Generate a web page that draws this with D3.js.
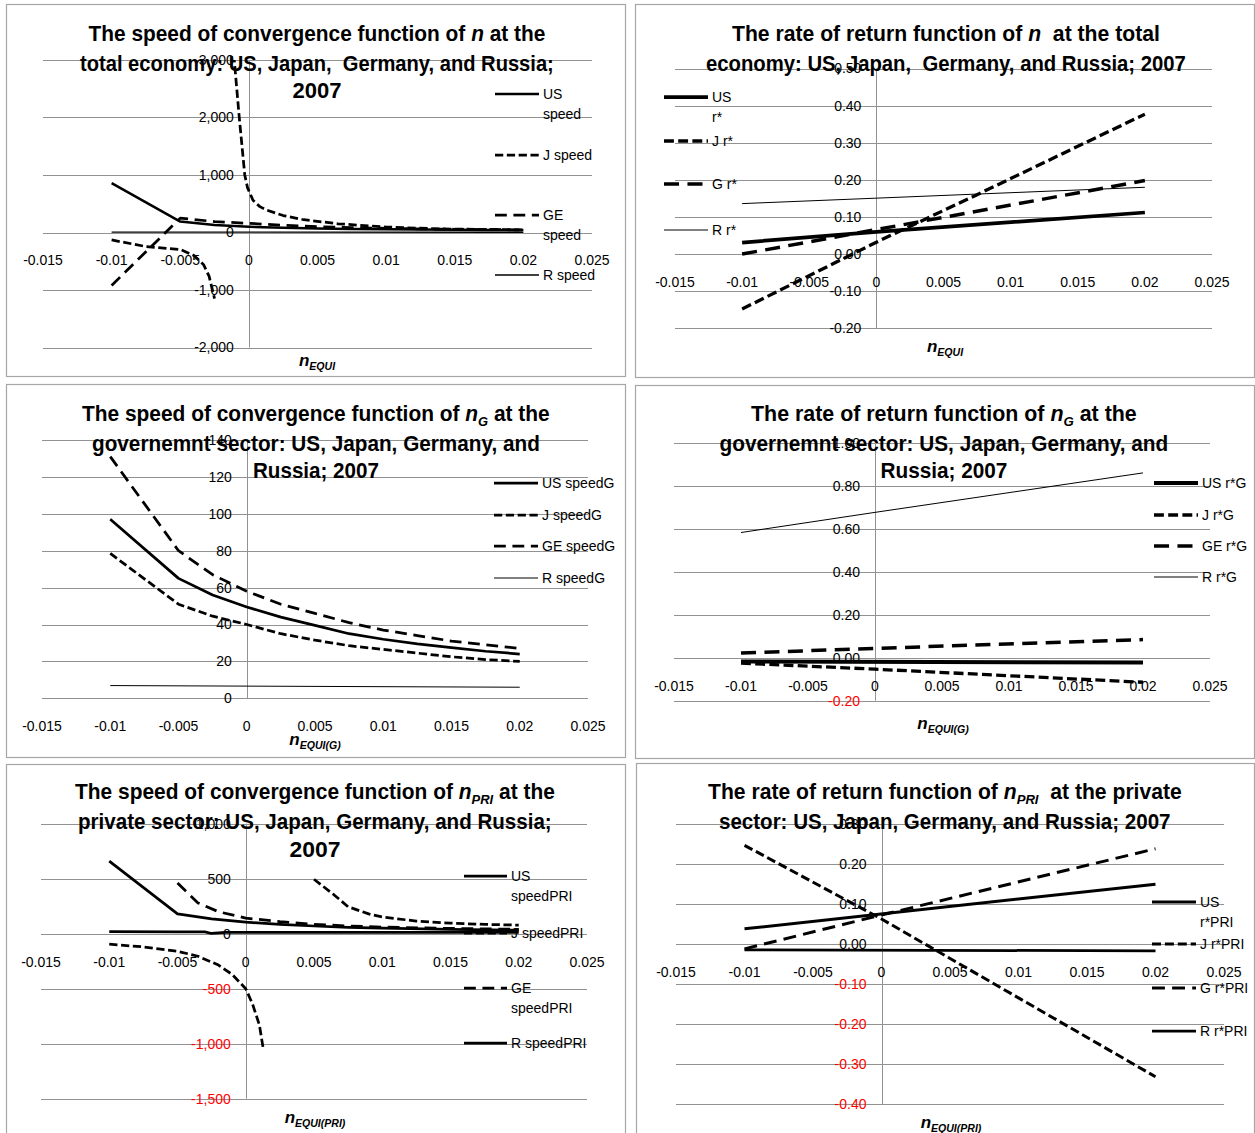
<!DOCTYPE html>
<html>
<head>
<meta charset="utf-8">
<script src="https://cdn.jsdelivr.net/npm/d3@7"></script>
<style>
  body { margin: 0; background: #fff; }
  svg { display: block; }
  text { white-space: pre; }
</style>
</head>
<body>
<div id="chart-area"></div>
<script>
// ---------- data ----------
var xTicks = [-0.015, -0.01, -0.005, 0, 0.005, 0.01, 0.015, 0.02, 0.025];

// panel 1: speed of convergence, total economy
var speedTicks = [-2000, -1000, 0, 1000, 2000, 3000];
var usSpeed = [[-0.01, 860], [-0.005, 190], [-0.0025, 130], [0, 100], [0.0025, 82], [0.005, 70], [0.0075, 62], [0.01, 56], [0.0125, 51], [0.015, 47], [0.0175, 44], [0.02, 42]];
var jSpeed = [[-0.01, -130], [-0.0075, -245], [-0.005, -295], [-0.004, -400], [-0.0033, -560], [-0.0029, -760], [-0.0025, -1150], null,
              [-0.0011, 3100], [-0.0007, 2000], [-0.0003, 1000], [-0.0001, 780], [0.0003, 560], [0.0008, 450], [0.0013, 390], [0.0025, 295], [0.004, 222], [0.0065, 152], [0.01, 95], [0.014, 63], [0.02, 45]];
var geSpeed = [[-0.01, -920], [-0.005, 250], [-0.0025, 190], [0, 160], [0.0025, 125], [0.005, 100], [0.0075, 85], [0.01, 72], [0.015, 56], [0.02, 45]];
var rSpeed = [[-0.01, 8], [0, 6], [0.02, 4]];

// panel 2: rate of return, total economy
var rateTicks = [-0.2, -0.1, 0, 0.1, 0.2, 0.3, 0.4, 0.5];
var usRate = [[-0.01, 0.031], [0, 0.06], [0.02, 0.112]];
var jRate = [[-0.01, -0.148], [0, 0.032], [0.0075, 0.16], [0.02, 0.377]];
var gRate = [[-0.01, 0.0], [0, 0.066], [0.02, 0.198]];
var rRate = [[-0.01, 0.136], [0.02, 0.18]];

// panel 3: speed of convergence, government sector
var speedGTicks = [0, 20, 40, 60, 80, 100, 120, 140];
var usSpeedG = [[-0.01, 97], [-0.005, 65], [-0.0025, 56], [0, 49.5], [0.0025, 44], [0.005, 39.5], [0.0075, 35], [0.01, 32], [0.0125, 29.5], [0.015, 27.5], [0.0175, 25.5], [0.02, 24]];
var jSpeedG = [[-0.01, 78.5], [-0.005, 51], [-0.0025, 44.5], [0, 40], [0.0025, 35], [0.005, 31.5], [0.0075, 28.5], [0.01, 26.5], [0.0125, 24.5], [0.015, 22.5], [0.0175, 21], [0.02, 20]];
var geSpeedG = [[-0.01, 131], [-0.005, 80], [-0.0025, 67], [0, 58], [0.0025, 51], [0.005, 46], [0.0075, 41], [0.01, 37], [0.0125, 34], [0.015, 31], [0.0175, 29], [0.02, 27]];
var rSpeedG = [[-0.01, 6.9], [0.02, 6.0]];

// panel 4: rate of return, government sector
var rateGTicks = [-0.2, 0, 0.2, 0.4, 0.6, 0.8, 1.0];
var usRateG = [[-0.01, -0.017], [0.02, -0.022]];
var jRateG = [[-0.01, -0.025], [0, -0.053], [0.02, -0.114]];
var geRateG = [[-0.01, 0.022], [0, 0.044], [0.02, 0.085]];
var rRateG = [[-0.01, 0.584], [0, 0.678], [0.02, 0.862]];

// panel 5: speed of convergence, private sector
var speedPriTicks = [-1500, -1000, -500, 0, 500, 1000];
var usSpeedPri = [[-0.01, 660], [-0.005, 180], [-0.0025, 135], [0, 105], [0.0025, 85], [0.005, 70], [0.0075, 58], [0.01, 50], [0.015, 40], [0.02, 32]];
var jSpeedPri = [[-0.01, -95], [-0.0075, -120], [-0.005, -160], [-0.0035, -205], [-0.002, -285], [-0.001, -370], [0, -500], [0.0005, -640], [0.001, -830], [0.0013, -1060], null,
                 [0.005, 495], [0.0065, 350], [0.0075, 245], [0.009, 180], [0.01, 152], [0.0125, 115], [0.015, 96], [0.0175, 85], [0.02, 78]];
var geSpeedPri = [[-0.005, 460], [-0.0035, 280], [-0.002, 200], [0, 142], [0.0025, 110], [0.005, 85], [0.0075, 70], [0.01, 60], [0.015, 48], [0.02, 40]];
var rSpeedPri = [[-0.01, 18], [-0.005, 17], [-0.003, 16], [-0.0025, 2], [-0.0015, 13], [0.02, 12]];

// panel 6: rate of return, private sector
var ratePriTicks = [-0.4, -0.3, -0.2, -0.1, 0, 0.1, 0.2, 0.3];
var usRatePri = [[-0.01, 0.0375], [0.02, 0.149]];
var jRatePri = [[-0.01, 0.246], [0, 0.062], [0.01, -0.135], [0.02, -0.332]];
var gRatePri = [[-0.01, -0.0125], [0, 0.072], [0.02, 0.2375]];
var rRatePri = [[-0.01, -0.015], [0.02, -0.0175]];

// ---------- setup ----------
var W = 1255, H = 1133;
var FONT = "'Liberation Sans', Arial, sans-serif";
var loc = d3.formatLocale({ decimal: ".", thousands: ",", grouping: [3], currency: ["", ""], minus: "-" });
var fmtComma = loc.format(","), fmt2 = loc.format(".2f"), fmtInt = loc.format("d");
var xFmt = d => String(+d.toFixed(3));

var canvas = d3.select("#chart-area").append("svg")
  .attr("width", W).attr("height", H);

// line styles, dash lengths follow the stroke width like Excel does
var styles = {
  solid: w => ({ w: w, dash: null }),
  short: w => ({ w: w, dash: [3 * w, 1.3 * w].join(",") }),
  long:  w => ({ w: w, dash: [4.3 * w, 2.4 * w].join(",") })
};

var panels = [
  { box: [6, 4, 625, 376], plot: [43, 592, 60, 347.5], yDomain: [-2000, 3000], yTicks: speedTicks, yFmt: fmtComma, redNeg: false,
    title: ["The speed of convergence function of <i>n</i> at the", "total economy: US, Japan,  Germany, and Russia;", "2007"],
    titleY: [33, 63, 90], titleW: [457, 474, 49], titleCx: 317,
    xTitle: "EQUI", xTitlePos: [317, 363],
    series: [
      { data: usSpeed, st: styles.solid(2.5), label: ["US", "speed"], ly: 94 },
      { data: jSpeed, st: styles.short(2.75), label: ["J speed"], ly: 155 },
      { data: geSpeed, st: styles.long(2.75), label: ["GE", "speed"], ly: 215 },
      { data: rSpeed, st: styles.solid(1.3), label: ["R speed"], ly: 275 }],
    legend: [495, 539, 543] },
  { box: [635, 4, 1254, 377], plot: [675, 1212, 68.5, 328.3], yDomain: [-0.2, 0.5], yTicks: rateTicks, yFmt: fmt2, redNeg: false,
    title: ["The rate of return function of <i>n</i>  at the total", "economy: US, Japan,  Germany, and Russia; 2007"],
    titleY: [33, 63], titleW: [428, 480], titleCx: 946,
    xTitle: "EQUI", xTitlePos: [945, 349],
    series: [
      { data: usRate, st: styles.solid(3.75), label: ["US", "r*"], ly: 97 },
      { data: jRate, st: styles.short(3.3), label: ["J r*"], ly: 141 },
      { data: gRate, st: styles.long(3.5), label: ["G r*"], ly: 184 },
      { data: rRate, st: styles.solid(1), label: ["R r*"], ly: 230 }],
    legend: [664, 708, 712] },
  { box: [6, 384, 625, 757], plot: [42, 588, 440, 698.3], yDomain: [0, 140], yTicks: speedGTicks, yFmt: fmtInt, redNeg: false,
    title: ["The speed of convergence function of <i>n</i><sub>G</sub> at the", "governemnt sector: US, Japan, Germany, and", "Russia; 2007"],
    titleY: [413, 443, 470], titleW: [468, 448, 126], titleCx: 316,
    xTitle: "EQUI(G)", xTitlePos: [315, 742],
    series: [
      { data: usSpeedG, st: styles.solid(2.75), label: ["US speedG"], ly: 483 },
      { data: jSpeedG, st: styles.short(2.75), label: ["J speedG"], ly: 515 },
      { data: geSpeedG, st: styles.long(2.75), label: ["GE speedG"], ly: 546 },
      { data: rSpeedG, st: styles.solid(1), label: ["R speedG"], ly: 578 }],
    legend: [494, 538, 542] },
  { box: [635, 385, 1254, 758], plot: [674, 1210, 443.3, 700.7], yDomain: [-0.2, 1.0], yTicks: rateGTicks, yFmt: fmt2, redNeg: true,
    title: ["The rate of return function of <i>n</i><sub>G</sub> at the", "governemnt sector: US, Japan, Germany, and", "Russia; 2007"],
    titleY: [413, 443, 470], titleW: [386, 449, 127], titleCx: 944,
    xTitle: "EQUI(G)", xTitlePos: [943, 726],
    series: [
      { data: usRateG, st: styles.solid(4), label: ["US r*G"], ly: 483 },
      { data: jRateG, st: styles.short(3.3), label: ["J r*G"], ly: 515 },
      { data: geRateG, st: styles.long(3.5), label: ["GE r*G"], ly: 546 },
      { data: rRateG, st: styles.solid(1), label: ["R r*G"], ly: 577 }],
    legend: [1154, 1198, 1202] },
  { box: [6, 764, 625, 1140], plot: [41, 587, 823.7, 1098.7], yDomain: [-1500, 1000], yTicks: speedPriTicks, yFmt: fmtComma, redNeg: true,
    title: ["The speed of convergence function of <i>n</i><sub>PRI</sub> at the", "private sector: US, Japan, Germany, and Russia;", "2007"],
    titleY: [791, 821, 849], titleW: [480, 474, 51], titleCx: 315,
    xTitle: "EQUI(PRI)", xTitlePos: [315, 1120],
    series: [
      { data: usSpeedPri, st: styles.solid(2.75), label: ["US", "speedPRI"], ly: 876 },
      { data: jSpeedPri, st: styles.short(2.75), label: ["J speedPRI"], ly: 933 },
      { data: geSpeedPri, st: styles.long(2.75), label: ["GE", "speedPRI"], ly: 988 },
      { data: rSpeedPri, st: styles.solid(2.75), label: ["R speedPRI"], ly: 1043 }],
    legend: [464, 507, 511] },
  { box: [636, 763, 1254, 1140], plot: [676, 1224, 823.7, 1104], yDomain: [-0.4, 0.3], yTicks: ratePriTicks, yFmt: fmt2, redNeg: true,
    title: ["The rate of return function of <i>n</i><sub>PRI</sub>  at the private", "sector: US, Japan, Germany, and Russia; 2007"],
    titleY: [791, 821], titleW: [474, 452], titleCx: 945,
    xTitle: "EQUI(PRI)", xTitlePos: [951, 1125],
    series: [
      { data: usRatePri, st: styles.solid(3), label: ["US", "r*PRI"], ly: 902 },
      { data: jRatePri, st: styles.short(3), label: ["J r*PRI"], ly: 944 },
      { data: gRatePri, st: styles.long(3), label: ["G r*PRI"], ly: 988 },
      { data: rRatePri, st: styles.solid(2.75), label: ["R r*PRI"], ly: 1031 }],
    legend: [1152, 1196, 1200] }
];

// text with <i> and <sub> pieces
function addRich(t, str, subDy) {
  var parts = str.split(/(<i>.*?<\/i>|<sub>.*?<\/sub>)/).filter(s => s.length);
  var shifted = false;
  parts.forEach(part => {
    var ts = t.append("tspan");
    if (part.indexOf("<sub>") === 0) {
      ts.attr("font-style", "italic").attr("font-size", "0.62em").attr("dy", subDy).text(part.slice(5, -6));
      shifted = true;
      return;
    }
    if (part.indexOf("<i>") === 0) ts.attr("font-style", "italic").text(part.slice(3, -4));
    else ts.text(part);
    if (shifted) { ts.attr("dy", -subDy); shifted = false; }
  });
}

panels.forEach((p, pi) => {
  var g = canvas.append("g");
  var left = p.plot[0], right = p.plot[1], top = p.plot[2], bottom = p.plot[3];

  var xScale = d3.scaleLinear().domain([-0.015, 0.025]).range([left, right]);
  var yScale = d3.scaleLinear().domain(p.yDomain).range([bottom, top]);

  // panel frame
  g.append("rect")
    .attr("x", p.box[0] + 0.5).attr("y", p.box[1] + 0.5)
    .attr("width", p.box[2] - p.box[0]).attr("height", p.box[3] - p.box[1])
    .attr("fill", "#fff").attr("stroke", "#a6a6a6").attr("stroke-width", 1.2);

  // horizontal gridlines
  g.selectAll(".grid").data(p.yTicks).enter().append("line")
    .attr("x1", left).attr("x2", right)
    .attr("y1", d => Math.round(yScale(d)) + 0.5).attr("y2", d => Math.round(yScale(d)) + 0.5)
    .attr("stroke", "#929292").attr("stroke-width", 1);

  // vertical axis at x = 0
  var x0 = Math.round(xScale(0)) + 0.5;
  g.append("line").attr("x1", x0).attr("x2", x0).attr("y1", top).attr("y2", bottom)
    .attr("stroke", "#929292").attr("stroke-width", 1);

  // y tick labels
  g.selectAll(".ylab").data(p.yTicks).enter().append("text")
    .attr("x", xScale(0) - 15).attr("y", d => yScale(d)).attr("dy", "0.35em")
    .attr("text-anchor", "end")
    .attr("font-family", FONT).attr("font-size", "14px")
    .attr("fill", d => (p.redNeg && d < 0) ? "#ff0000" : "#000")
    .text(d => p.yFmt(d));

  // x tick labels, sit under the zero line
  var y0 = yScale(0);
  g.selectAll(".xlab").data(xTicks).enter().append("text")
    .attr("x", d => xScale(d)).attr("y", y0 + 28).attr("dy", "0.35em")
    .attr("text-anchor", "middle")
    .attr("font-family", FONT).attr("font-size", "14px")
    .text(xFmt);

  // legend
  p.series.forEach(s => {
    var lg = g.append("line")
      .attr("x1", p.legend[0]).attr("x2", p.legend[1]).attr("y1", s.ly).attr("y2", s.ly)
      .attr("stroke", "#000").attr("stroke-width", s.st.w);
    if (s.st.dash) lg.attr("stroke-dasharray", s.st.dash);
    s.label.forEach((txt, k) => {
      g.append("text")
        .attr("x", p.legend[2]).attr("y", s.ly + k * 20.5).attr("dy", "0.35em")
        .attr("font-family", FONT).attr("font-size", "14px")
        .text(txt);
    });
  });

  // series lines, clipped to plot area
  var clipId = "clip" + pi;
  g.append("clipPath").attr("id", clipId).append("rect")
    .attr("x", left).attr("y", top).attr("width", right - left).attr("height", bottom - top);

  var line = d3.line()
    .defined(d => d !== null)
    .x(d => xScale(d[0]))
    .y(d => yScale(d[1]));

  p.series.forEach(s => {
    var path = g.append("path")
      .attr("clip-path", "url(#" + clipId + ")")
      .attr("d", line(s.data))
      .attr("fill", "none").attr("stroke", "#000")
      .attr("stroke-width", s.st.w).attr("stroke-linejoin", "round");
    if (s.st.dash) path.attr("stroke-dasharray", s.st.dash);
  });

  // title lines, squeezed to the width seen in the picture
  p.title.forEach((ln, i) => {
    var t = g.append("text")
      .attr("font-family", FONT).attr("font-weight", "bold").attr("font-size", "22px")
      .attr("x", 0).attr("y", 0);
    addRich(t, ln, 5);
    var w = t.node().getBBox().width;
    var sx = p.titleW[i] / w;
    t.attr("transform", "translate(" + (p.titleCx - p.titleW[i] / 2) + "," + (p.titleY[i] + 7.5) + ") scale(" + sx + ",1)");
  });

  // x axis title
  var xt = g.append("text")
    .attr("x", p.xTitlePos[0]).attr("y", p.xTitlePos[1] + 3)
    .attr("text-anchor", "middle")
    .attr("font-family", FONT).attr("font-weight", "bold").attr("font-size", "17px");
  addRich(xt, "<i>n</i><sub>" + p.xTitle + "</sub>", 4);
});
</script>
</body>
</html>
